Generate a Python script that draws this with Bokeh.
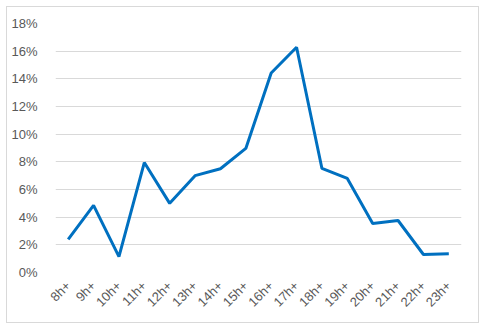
import math
from bokeh.plotting import figure
from bokeh.models import FixedTicker, PrintfTickFormatter, Range1d
from bokeh.layouts import column
from bokeh.embed import file_html
from bokeh.resources import INLINE

categories = ["8h+", "9h+", "10h+", "11h+", "12h+", "13h+", "14h+", "15h+",
              "16h+", "17h+", "18h+", "19h+", "20h+", "21h+", "22h+", "23h+"]
values = [2.4, 4.85, 1.15, 7.95, 5.0, 7.0, 7.5, 8.97,
          14.42, 16.28, 7.52, 6.8, 3.55, 3.76, 1.3, 1.36]
y_ticks = [0, 2, 4, 6, 8, 10, 12, 14, 16, 18]

p = figure(width=471, height=315, x_range=categories, y_range=Range1d(0, 18),
           output_backend="svg", toolbar_location=None,
           min_border_left=48, min_border_right=17, min_border_top=16, min_border_bottom=50)
p.outline_line_color = None
p.line(categories, values, line_color="#0070C0", line_width=3)

p.xgrid.grid_line_color = None
p.ygrid.grid_line_color = "#d9d9d9"
p.ygrid.ticker = FixedTicker(ticks=y_ticks)

p.yaxis.ticker = FixedTicker(ticks=y_ticks)
p.yaxis.formatter = PrintfTickFormatter(format="%d%%")
for ax in (p.xaxis, p.yaxis):
    ax.axis_line_color = None
    ax.major_tick_line_color = None
    ax.minor_tick_line_color = None
    ax.major_label_text_font = "Liberation Sans"
    ax.major_label_text_font_size = "13px"
    ax.major_label_text_color = "#595959"
p.xaxis.major_label_orientation = math.pi / 4
p.yaxis.major_label_standoff = 12
p.xaxis.major_label_standoff = 5

lay = column(p, styles={"margin": "6px 0 0 6px", "border": "1px solid #d9d9d9"})
open("out.html", "w").write(file_html(lay, INLINE))
